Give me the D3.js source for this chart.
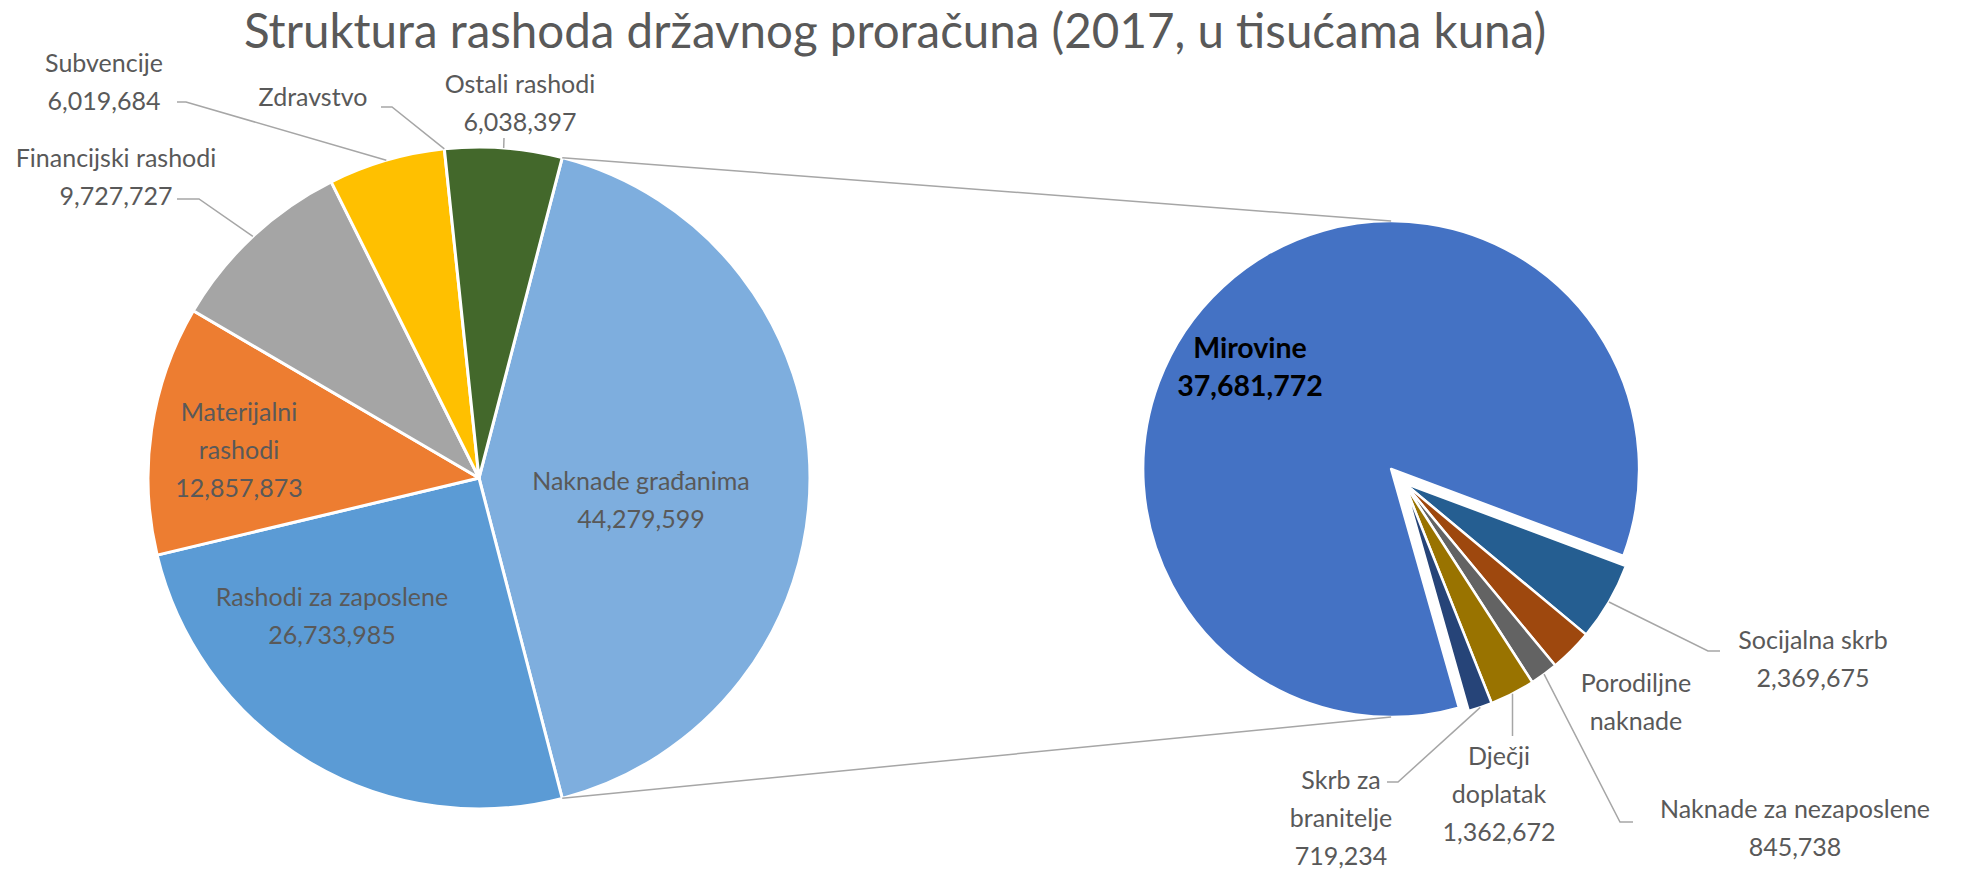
<html>
  <head>
    <meta charset="UTF-8">
    <title>Struktura rashoda</title>
    <style type="text/css">
      body { margin: 0; background-color: #fff; }
      svg { display: block; background-color: #fff; }
      .lbl { font-family: Lato, sans-serif; font-size: 25px; fill: #595959; }
      .lbl.bold { font-weight: bold; fill: #000; font-size: 28.5px; }
      .title { font-family: Lato, sans-serif; font-size: 47.5px; fill: #595959; }
      .leader { stroke: #a6a6a6; stroke-width: 1.5px; fill: none; }
    </style>
    <script src="https://cdn.jsdelivr.net/npm/d3@7/dist/d3.min.js"></script>
  </head>
  <body>
    <div id="chart"></div>

    <script type="text/javascript">
      var width = 1983, height = 876;

      var title = "Struktura rashoda državnog proračuna (2017, u tisućama kuna)";

      // main pie, clockwise starting with the "other" slice
      var mainNames = ["Naknade građanima", "Rashodi za zaposlene", "Materijalni rashodi", "Financijski rashodi", "Subvencije", "Zdravstvo", "Ostali rashodi"];
      var mainValues = [44279599, 26733985, 12857873, 9727727, 6019684, 0, 6038397];
      var mainColors = ["#7eaede", "#5b9bd5", "#ed7d31", "#a5a5a5", "#ffc000", "#ffc000", "#43682b"];

      // secondary pie (split of Naknade građanima)
      var subNames = ["Socijalna skrb", "Porodiljne naknade", "Naknade za nezaposlene", "Dječji doplatak", "Skrb za branitelje", "Mirovine"];
      var subValues = [2369675, 1300508, 845738, 1362672, 719234, 37681772];
      var subColors = ["#255e91", "#9e480e", "#636363", "#997300", "#264478", "#4472c4"];

      // geometry
      var mainC = [479, 478], mainR = 331;
      var subC = [1404, 483], subR = 237, mirR = 248, explode = 19;
      var subStartDeg = 110.5;
      var lineH = 38;

      var fmt = d3.format(",");

      var svg = d3.select("#chart")
        .append("svg")
        .attr("width", width + "px")
        .attr("height", height + "px");

      svg.append("text")
        .attr("class", "title")
        .attr("x", 895).attr("y", 31)
        .attr("dy", "0.35em")
        .attr("text-anchor", "middle")
        .text(title);

      // main pie, "other" slice centred on the right side
      var mainSum = d3.sum(mainValues);
      var mainStart = Math.PI / 2 - Math.PI * mainValues[0] / mainSum;
      var mainArcs = d3.pie().sort(null)
        .startAngle(mainStart).endAngle(mainStart + 2 * Math.PI)(mainValues);
      var arcMain = d3.arc().innerRadius(0).outerRadius(mainR);

      var gMain = svg.append("g").attr("transform", "translate(" + mainC[0] + "," + mainC[1] + ")");
      gMain.selectAll("path")
        .data(mainArcs.filter(function(d) { return d.value > 0; }))
        .enter()
        .append("path")
        .attr("d", arcMain)
        .attr("fill", function(d) { return mainColors[d.index]; })
        .attr("stroke", "#fff")
        .attr("stroke-width", 3)
        .attr("stroke-linejoin", "round");

      // secondary pie, Mirovine exploded along its bisector
      var subStart = subStartDeg * Math.PI / 180;
      var subArcs = d3.pie().sort(null)
        .startAngle(subStart).endAngle(subStart + 2 * Math.PI)(subValues);
      var mirIdx = subValues.length - 1;
      var mirMid = (subArcs[mirIdx].startAngle + subArcs[mirIdx].endAngle) / 2;
      var mirC = [subC[0] + explode * Math.sin(mirMid), subC[1] - explode * Math.cos(mirMid)];

      var arcSub = d3.arc().innerRadius(0).outerRadius(function(d) { return d.index == mirIdx ? mirR : subR; });

      svg.append("g").selectAll("path")
        .data(subArcs)
        .enter()
        .append("path")
        .attr("transform", function(d) {
          var c = d.index == mirIdx ? mirC : subC;
          return "translate(" + c[0] + "," + c[1] + ")";
        })
        .attr("d", arcSub)
        .attr("fill", function(d) { return subColors[d.index]; })
        .attr("stroke", "#fff")
        .attr("stroke-width", 2.5)
        .attr("stroke-linejoin", "round");

      function onArc(c, r, a) { return [c[0] + r * Math.sin(a), c[1] - r * Math.cos(a)]; }
      function mid(d) { return (d.startAngle + d.endAngle) / 2; }

      // connector lines between the two pies
      var p1 = onArc(mainC, mainR, mainArcs[0].startAngle);
      var p2 = onArc(mainC, mainR, mainArcs[0].endAngle);
      svg.append("line").attr("class", "leader")
        .attr("x1", p1[0]).attr("y1", p1[1]).attr("x2", mirC[0]).attr("y2", mirC[1] - mirR);
      svg.append("line").attr("class", "leader")
        .attr("x1", p2[0]).attr("y1", p2[1]).attr("x2", mirC[0]).attr("y2", mirC[1] + mirR);

      // label placement (text centre x, first line centre y, break after n words, leader points)
      var mainLabels = [
        { i: 0, x: 641, y: 481, brk: 0, value: true },
        { i: 1, x: 332, y: 597, brk: 0, value: true },
        { i: 2, x: 239, y: 412, brk: 1, value: true },
        { i: 3, x: 116, y: 158, brk: 0, value: true, leader: [[177, 199], [199, 199]] },
        { i: 4, x: 104, y: 63, brk: 0, value: true, leader: [[177, 102], [186, 102]] },
        { i: 5, x: 313, y: 97, brk: 0, value: false, leader: [[381, 107], [392, 107]] },
        { i: 6, x: 520, y: 84, brk: 0, value: true, leader: [[504, 138]] }
      ];
      var subLabels = [
        { i: 0, x: 1813, y: 640, brk: 0, value: true, leader: [[1720, 651], [1708, 651]] },
        { i: 1, x: 1636, y: 683, brk: 1, value: false },
        { i: 2, x: 1795, y: 809, brk: 0, value: true, leader: [[1633, 822], [1620, 822]] },
        { i: 3, x: 1499, y: 756, brk: 1, value: true, leader: "down" },
        { i: 4, x: 1341, y: 780, brk: 2, value: true, leader: [[1387, 782], [1398, 782]] },
        { i: 5, x: 1250, y: 348, brk: 0, value: true, bold: true }
      ];

      function labelLines(name, v, l) {
        var lines;
        if (l.brk > 0) {
          var w = name.split(" ");
          lines = [w.slice(0, l.brk).join(" "), w.slice(l.brk).join(" ")];
        } else {
          lines = [name];
        }
        if (l.value) lines.push(fmt(v));
        return lines;
      }

      function drawLabels(labels, names, values, arcs, center, radius) {
        labels.forEach(function(l) {
          var lines = labelLines(names[l.i], values[l.i], l);
          var t = svg.append("text")
            .attr("class", l.bold ? "lbl bold" : "lbl")
            .attr("text-anchor", "middle");
          lines.forEach(function(s, k) {
            t.append("tspan").attr("x", l.x).attr("y", l.y + k * lineH).attr("dy", "0.35em").text(s);
          });
          if (l.leader) {
            var end = onArc(center, radius, mid(arcs[l.i]));
            var pts;
            if (l.leader == "down") {
              pts = [[end[0], l.y - 20], end];
            } else {
              pts = l.leader.concat([end]);
            }
            svg.append("path").attr("class", "leader").attr("d", d3.line()(pts));
          }
        });
      }

      drawLabels(mainLabels, mainNames, mainValues, mainArcs, mainC, mainR);
      drawLabels(subLabels, subNames, subValues, subArcs, subC, subR);
    </script>
  </body>
</html>
